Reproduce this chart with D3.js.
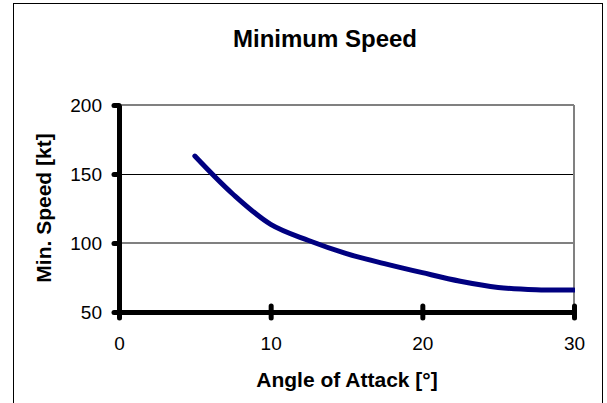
<!DOCTYPE html>
<html>
<head>
<meta charset="utf-8">
<script src="https://cdn.jsdelivr.net/npm/d3@7"></script>
<style>
  html, body { margin: 0; padding: 0; background: #fff; }
  svg { display: block; font-family: "Liberation Sans", Arial, sans-serif; }
</style>
</head>
<body>
<script>
// ---- data ----
const angles = [5, 7.5, 10, 12.5, 15, 17.5, 20, 22.5, 25, 27.5, 30];
const minSpeed = [163, 135.5, 113.5, 101.8, 92.3, 85.1, 78.5, 72.3, 67.8, 66.1, 65.9];
const xTicks = [0, 10, 20, 30];
const yTicks = [50, 100, 150, 200];
const titleText = "Minimum Speed";
const xTitle = "Angle of Attack [°]";
const yTitle = "Min. Speed [kt]";

const W = 607, H = 403;
const svg = d3.select("body").append("svg").attr("width", W).attr("height", H);

const x = d3.scaleLinear().domain([0, 30]).range([119, 574]);
const y = d3.scaleLinear().domain([50, 200]).range([312, 105]);

// outer chart border
svg.append("rect").attr("x", 13.5).attr("y", 3.5).attr("width", 589).attr("height", 420)
  .attr("fill", "none").attr("stroke", "#000").attr("stroke-width", 1);

// title
svg.append("text").attr("x", 325).attr("y", 46.5).attr("text-anchor", "middle")
  .attr("font-size", 24).attr("font-weight", "bold").text(titleText);

// gridlines
svg.append("g").selectAll("line").data(yTicks.filter(v => v > 50)).join("line")
  .attr("x1", x(0)).attr("x2", x(30))
  .attr("y1", d => d === 150 ? y(d) + 0.5 : y(d))
  .attr("y2", d => d === 150 ? y(d) + 0.5 : y(d))
  .attr("stroke", d => d === 150 ? "#000" : "#808080")
  .attr("stroke-width", d => d === 150 ? 1 : 2);

// right plot border
svg.append("line").attr("x1", x(30)).attr("x2", x(30)).attr("y1", y(200)).attr("y2", y(50))
  .attr("stroke", "#808080").attr("stroke-width", 2);

// curve
svg.append("defs").append("clipPath").attr("id", "clip")
  .append("rect").attr("x", 0).attr("y", 0).attr("width", x(30) + 1).attr("height", H);

const line = d3.line().x((d, i) => x(angles[i])).y(d => y(d)).curve(d3.curveCatmullRom.alpha(0.5));
svg.append("path").datum(minSpeed).attr("d", line)
  .attr("clip-path", "url(#clip)")
  .attr("fill", "none").attr("stroke", "#000080").attr("stroke-width", 5)
  .attr("stroke-linecap", "round").attr("stroke-linejoin", "round");

// y axis
const gy = svg.append("g").attr("transform", `translate(${x(0)},0)`)
  .call(d3.axisLeft(y).tickValues(yTicks).tickSize(5).tickSizeOuter(0).tickPadding(12));
gy.select(".domain").attr("stroke", "#000").attr("stroke-width", 5);
gy.selectAll(".tick line").attr("stroke", "#000").attr("stroke-width", 5).attr("stroke-linecap", "round");
gy.selectAll(".tick text").attr("font-size", 19).attr("fill", "#000")
  .attr("font-family", "Liberation Sans, Arial, sans-serif").attr("x", -17).attr("dy", "0.35em");

// x axis
const gx = svg.append("g").attr("transform", `translate(0,${y(50)})`)
  .call(d3.axisBottom(x).tickValues(xTicks).tickSize(6).tickSizeOuter(0));
gx.select(".domain").attr("stroke", "#000").attr("stroke-width", 5);
gx.selectAll(".tick line").attr("y1", -6).attr("stroke", "#000").attr("stroke-width", 5).attr("stroke-linecap", "round");
gx.selectAll(".tick text").attr("font-size", 19).attr("fill", "#000")
  .attr("font-family", "Liberation Sans, Arial, sans-serif").attr("y", 38).attr("dy", 0);

// axis titles
svg.append("text").attr("x", 347).attr("y", 386.5).attr("text-anchor", "middle")
  .attr("font-size", 21).attr("font-weight", "bold").text(xTitle);
svg.append("text").attr("transform", "translate(51,208) rotate(-90)").attr("text-anchor", "middle")
  .attr("font-size", 21).attr("font-weight", "bold").text(yTitle);
</script>
</body>
</html>
